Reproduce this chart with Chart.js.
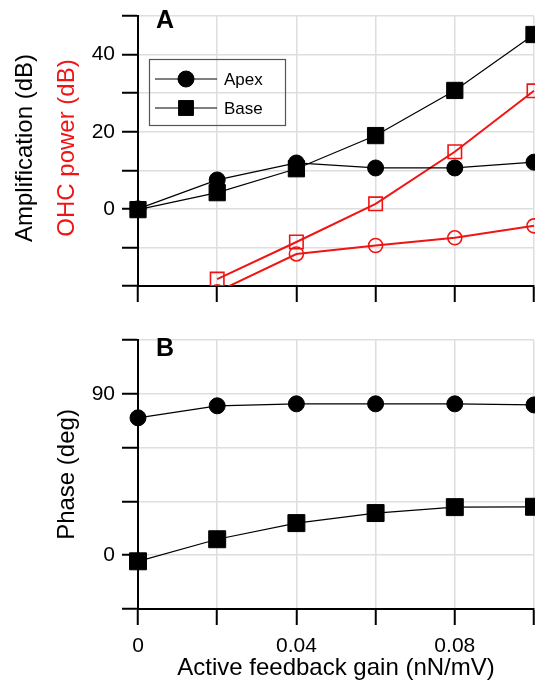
<!DOCTYPE html>
<html lang="en">
<head>
  <meta charset="UTF-8" />
  <title>Amplification and phase vs feedback gain</title>
  <script src="https://cdn.jsdelivr.net/npm/chart.js@4"></script>
  <style>
    html, body { margin: 0; padding: 0; background: #fff; }
    .wrap { position: relative; width: 535px; height: 681px; }
    #panelA { position: absolute; left: 0; top: 0; }
    #panelB { position: absolute; left: 0; top: 310px; }
  </style>
</head>
<body>
  <div class="wrap">
    <canvas id="panelA" width="535" height="310"></canvas>
    <canvas id="panelB" width="535" height="371"></canvas>
  </div>

  <script>
    // values
    const gains = [0, 0.02, 0.04, 0.06, 0.08, 0.1];
    const ampApex = [0, 7.5, 11.9, 10.6, 10.6, 12.1];
    const ampBase = [-0.2, 4.2, 10.4, 19.0, 30.7, 45.2];
    const ohcApex = [null, -21.5, -11.7, -9.5, -7.5, -4.4];
    const ohcBase = [null, -18.2, -8.6, 1.3, 14.8, 30.6];
    const phaseApex = [76.6, 83.3, 84.4, 84.4, 84.4, 83.8];
    const phaseBase = [-3.4, 8.9, 17.9, 23.5, 26.8, 27.0];

    const ampTicks = [0, 20, 40];
    const phaseTicks = [0, 90];
    const gainTicks = [0, 0.04, 0.08];

    const FONT = '"Liberation Sans", Arial, Helvetica, sans-serif';
    const RED = '#f01414';

    const pts = ys => gains.map((x, i) => ({ x: x, y: ys[i] }));

    const series = (label, ys, opts) => Object.assign({
      label: label,
      data: pts(ys),
      borderColor: '#000',
      backgroundColor: '#000',
      borderWidth: 1.2,
      pointBorderWidth: 1,
      pointRadius: 8,
      pointHoverRadius: 8,
      pointStyle: 'circle',
      tension: 0,
      clip: { left: 20, top: 20, right: 20, bottom: 0 }
    }, opts);

    function xAxis(showLabels, height, pad) {
      return {
        type: 'linear', min: 0, max: 0.1,
        afterFit: s => {
          s.height = height;
          // plot runs right up to the page edge
          s.paddingLeft = 0;
          s.paddingRight = 0;
        },
        border: { color: '#000', width: 2 },
        grid: { color: '#dedede', lineWidth: 1.5, tickColor: '#000', tickWidth: 2, tickLength: 16 },
        ticks: {
          stepSize: 0.02, autoSkip: false, maxRotation: 0, padding: pad,
          color: '#000', font: { family: FONT, size: 21 },
          callback: v => {
            const r = Math.round(v * 1000) / 1000;
            return showLabels && gainTicks.includes(r) ? String(r) : '';
          }
        },
        title: showLabels ? {
          display: true, text: 'Active feedback gain (nN/mV)', color: '#000',
          font: { family: FONT, size: 24 }, padding: { top: 0, bottom: -2 }
        } : { display: false }
      };
    }

    function yAxis(min, max, step, labels) {
      return {
        min: min, max: max,
        afterFit: s => { s.width = 138; },
        border: { color: '#000', width: 2 },
        grid: { color: '#dedede', lineWidth: 1.5, tickColor: '#000', tickWidth: 2, tickLength: 16 },
        ticks: {
          stepSize: step, autoSkip: false, padding: 7,
          color: '#000', font: { family: FONT, size: 21, lineHeight: 0.8 },
          callback: v => labels.includes(v) ? String(v) : ''
        }
      };
    }

    // rotated y titles and the bold panel letter
    const sideTitles = {
      id: 'sideTitles',
      afterDraw(chart, args, opts) {
        const ctx = chart.ctx;
        const area = chart.chartArea;
        const cy = (area.top + area.bottom) / 2 + (opts.dy || 0);
        ctx.save();
        ctx.font = '24px ' + FONT;
        ctx.textAlign = 'center';
        ctx.textBaseline = 'middle';
        (opts.lines || []).forEach(l => {
          ctx.save();
          ctx.translate(l.x, cy);
          ctx.rotate(-Math.PI / 2);
          ctx.fillStyle = l.color;
          ctx.fillText(l.text, 0, 0);
          ctx.restore();
        });
        if (opts.panel) {
          ctx.font = 'bold 25px ' + FONT;
          ctx.textAlign = 'left';
          ctx.textBaseline = 'alphabetic';
          ctx.fillStyle = '#000';
          ctx.fillText(opts.panel, area.left + 18, opts.panelY);
        }
        ctx.restore();
      }
    };

    // boxed legend inside panel A (no fill, grid shows through)
    const boxLegend = {
      id: 'boxLegend',
      afterDraw(chart, args, opts) {
        if (!opts.show) return;
        const ctx = chart.ctx;
        const x0 = 149, y0 = 59, w = 136, h = 66;
        ctx.save();
        ctx.strokeStyle = '#555';
        ctx.lineWidth = 1.2;
        ctx.strokeRect(x0 + 0.5, y0 + 0.5, w, h);
        ctx.font = '17px ' + FONT;
        ctx.textBaseline = 'middle';
        ctx.textAlign = 'left';
        [0, 1].forEach((di, row) => {
          const ds = chart.data.datasets[di];
          const y = y0 + 20 + row * 29;
          ctx.strokeStyle = ds.borderColor;
          ctx.lineWidth = ds.borderWidth;
          ctx.beginPath();
          ctx.moveTo(155, y);
          ctx.lineTo(217, y);
          ctx.stroke();
          ctx.fillStyle = ds.backgroundColor;
          ctx.lineWidth = 1;
          const r = ds.pointStyle === 'rect' ? 10.5 : 8;
          Chart.helpers.drawPoint(ctx, { pointStyle: ds.pointStyle, radius: r, rotation: 0, borderWidth: 1 }, 186, y);
          ctx.fillStyle = '#000';
          ctx.fillText(ds.label, 224, y + 1);
        });
        ctx.restore();
      }
    };

    new Chart(document.getElementById('panelA'), {
      type: 'line',
      data: {
        datasets: [
          series('Apex', ampApex),
          series('Base', ampBase, { pointStyle: 'rect', pointRadius: 11.5 }),
          series('OHC Apex', ohcApex, {
            borderColor: RED, backgroundColor: 'rgba(255,255,255,0)', borderWidth: 2,
            pointBorderWidth: 1.6, pointRadius: 7, pointHoverRadius: 7
          }),
          series('OHC Base', ohcBase, {
            borderColor: RED, backgroundColor: 'rgba(255,255,255,0)', borderWidth: 2,
            pointStyle: 'rect', pointBorderWidth: 1.6, pointRadius: 9.5, pointHoverRadius: 9.5
          })
        ]
      },
      options: {
        responsive: false,
        animation: false,
        layout: { autoPadding: false, padding: { top: 16, right: 1, left: 0, bottom: 0 } },
        scales: {
          x: xAxis(false, 24, 4),
          y: yAxis(-20, 50, 10, ampTicks)
        },
        plugins: {
          legend: { display: false },
          tooltip: { enabled: false },
          sideTitles: {
            dy: -3,
            lines: [
              { text: 'Amplification (dB)', color: '#000', x: 25 },
              { text: 'OHC power (dB)', color: RED, x: 67 }
            ],
            panel: 'A', panelY: 28
          },
          boxLegend: { show: true }
        }
      },
      plugins: [sideTitles, boxLegend]
    });

    new Chart(document.getElementById('panelB'), {
      type: 'line',
      data: {
        datasets: [
          series('Apex', phaseApex),
          series('Base', phaseBase, { pointStyle: 'rect', pointRadius: 12 })
        ]
      },
      options: {
        responsive: false,
        animation: false,
        layout: { autoPadding: false, padding: { top: 30, right: 1, left: 0, bottom: 0 } },
        scales: {
          x: xAxis(true, 72, 9),
          y: yAxis(-30, 120, 30, phaseTicks)
        },
        plugins: {
          legend: { display: false },
          tooltip: { enabled: false },
          sideTitles: {
            lines: [{ text: 'Phase (deg)', color: '#000', x: 67 }],
            panel: 'B', panelY: 46
          }
        }
      },
      plugins: [sideTitles]
    });
  </script>
</body>
</html>
